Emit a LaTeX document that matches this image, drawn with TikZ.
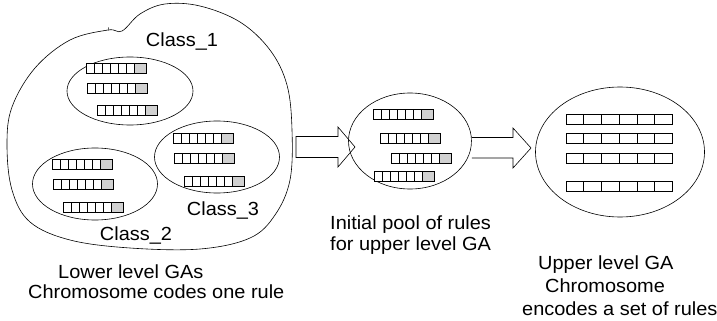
\documentclass[tikz,border=0pt]{standalone}
\usepackage{fontspec}
\setmainfont{Liberation Sans}
\newfontfamily\labelfont{Liberation Sans}[FakeStretch=1.05]
\usetikzlibrary{shapes.geometric}

\definecolor{gene}{gray}{0.82}

\tikzset{
  cell/.style={draw=black, line width=0.7pt, fill=white},
  label/.style={font=\labelfont\fontsize{19}{22}\selectfont, inner sep=0pt},
  pool/.style={draw, ellipse, line width=0.6pt, inner sep=0pt},
  blockarrow/.style={draw, line width=0.6pt, fill=white},
  % a short rule: six gene cells and a grey class cell
  smallrule/.pic={
    \foreach \i in {0,...,5} \draw[cell] (\i*8,0) rectangle ++(8,10);
    \draw[cell, fill=gene] (48,0) rectangle ++(12,10);
  },
  % a rule inside an upper level chromosome
  bigrule/.pic={
    \foreach \i in {0,...,5} \draw[cell, line width=0.5pt] (\i*17.7,0) rectangle ++(17.7,10);
  }
}

\begin{document}
\begin{tikzpicture}[x=1pt, y=-1pt]
\useasboundingbox (0,0) rectangle (717,321);

% outer region holding the lower level GAs
\draw[line width=0.6pt] plot[smooth cycle, tension=0.6] coordinates {
  (12,107) (35,68) (70,40) (108,30) (122,31) (140,14)
  (165,4) (200,6) (240,22) (270,50) (287,85) (292,130) (290,180)
  (275,215) (250,238) (200,249) (130,248) (70,240) (30,222) (12,190) (7,145)};
\draw[line width=0.5pt] (108.5,27.5) -- (109,30.5);

% the three classes
\node[pool, minimum width=126pt, minimum height=68pt] (c1) at (130,91) {};
\node[pool, minimum width=125pt, minimum height=72pt] (c3) at (217,157) {};
\node[pool, minimum width=125pt, minimum height=72pt] (c2) at (95,184) {};

\pic at (86,63) {smallrule};
\pic at (87,83) {smallrule};
\pic at (97,105) {smallrule};

\pic at (173,133) {smallrule};
\pic at (174,153) {smallrule};
\pic at (184,176) {smallrule};

\pic at (52,159) {smallrule};
\pic at (53,179) {smallrule};
\pic at (63,202) {smallrule};

\node[label, anchor=base] (l1) at (182,47) {Class\_1};
\node[label, anchor=base] (l3) at (223,215) {Class\_3};
\node[label, anchor=base] (l2) at (136,240) {Class\_2};

\node[label, anchor=base west] (low1) at (58,278) {Lower level GAs};
\node[label, anchor=base west] (low2) at (28,298) {Chromosome codes one rule};

% arrow into the initial pool
\draw[blockarrow] (296,136.5) -- (338,136.5) -- (338,127) -- (355,147)
  -- (338,167) -- (338,157.5) -- (296,157.5) -- cycle;

% initial pool of rules
\node[pool, minimum width=123pt, minimum height=96pt] (pool) at (410,141) {};
\pic at (373,109) {smallrule};
\pic at (380,133) {smallrule};
\pic at (391,153) {smallrule};
\pic at (374,171) {smallrule};

\node[label, anchor=base west] (mid1) at (330,229) {Initial pool of rules};
\node[label, anchor=base west] (mid2) at (330,250) {for upper level GA};

% arrow into the upper level GA
\draw[blockarrow] (pool.east |- 0,137.5) -- (513,137.5) -- (513,128) -- (531,148)
  -- (513,168) -- (513,158) -- (pool.east |- 0,158);

% upper level chromosome
\node[pool, minimum width=169pt, minimum height=130pt] (upper) at (620,152) {};
\pic at (566,114) {bigrule};
\pic at (566,133) {bigrule};
\pic at (566,153) {bigrule};
\pic at (566,181) {bigrule};

\node[label, anchor=base west] (up1) at (538,269) {Upper level GA};
\node[label, anchor=base west] (up2) at (545,292) {Chromosome};
\node[label, anchor=base west] (up3) at (522,315) {encodes a set of rules};
\end{tikzpicture}
\end{document}
